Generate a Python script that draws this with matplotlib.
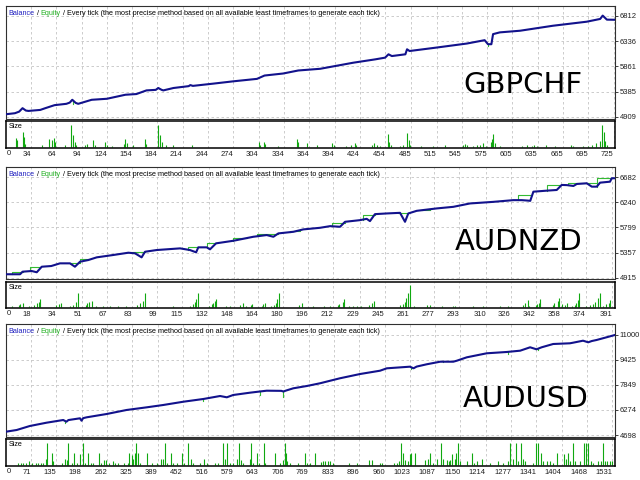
import matplotlib
matplotlib.use('Agg')
import matplotlib.pyplot as plt
import numpy as np

########################################################### DATA ###############################################################################

# GBPCHF
gbpchf_trade = [4, 15, 20, 24, 28, 31, 45, 51, 62, 76, 80, 83, 87, 90, 106, 124, 146, 159, 171, 182, 185, 189, 191,
                203, 221, 223, 226, 250, 274, 302, 311, 333, 351, 377, 416, 442, 454, 458, 462, 478, 480, 483, 515,
                551, 572, 576, 580, 582, 590, 614, 653, 693, 709, 712, 717, 727]
gbpchf_balance = [4960, 4980, 5010, 5075, 5030, 5023, 5042, 5075, 5132, 5157, 5180, 5233, 5175, 5157, 5233, 5252, 5328,
                  5341, 5410, 5420, 5455, 5420, 5410, 5455, 5490, 5510, 5495, 5537, 5581, 5627, 5690, 5728, 5785, 5817,
                  5931, 5994, 6027, 6090, 6057, 6090, 6185, 6152, 6217, 6293, 6356, 6280, 6280, 6470, 6503, 6534, 6628,
                  6704, 6756, 6819, 6743, 6740]
gbpchf_eq_trade = [84, 576]
gbpchf_eq_value = [5160, 6240]
gbpchf_size_trade = [16, 18, 24, 26, 27, 47, 55, 59, 61, 63, 74, 82, 84, 86, 88, 98, 101, 108, 110, 122, 124, 130,
                     144, 146, 148, 155, 169, 171, 185, 187, 189, 194, 203, 225, 304, 306, 310, 312, 327, 349, 351, 361,
                     373, 379, 391, 393, 408, 414, 418, 420, 438, 441, 444, 448, 457, 459, 461, 472, 475, 480, 482, 484,
                     497, 511, 525, 546, 549, 551, 558, 563, 566, 570, 574, 579, 581, 582, 584, 590, 616, 622, 628, 631,
                     634, 645, 655, 674, 677, 689, 695, 699, 704, 709, 711, 713, 715, 717]
gbpchf_size = [0.29, 0.22, 0.47, 0.32, 0.12, 0.09, 0.27, 0.22, 0.29, 0.17, 0.07, 0.69, 0.37, 0.17, 0.07, 0.07, 0.12, 0.22,
               0.09, 0.17, 0.07, 0.04, 0.12, 0.27, 0.15, 0.07, 0.27, 0.12, 0.69, 0.37, 0.17, 0.09, 0.09, 0.07, 0.17, 0.09,
               0.17, 0.12, 0.05, 0.27, 0.17, 0.15, 0.07, 0.02, 0.15, 0.07, 0.05, 0.07, 0.15, 0.07, 0.09, 0.15, 0.09, 0.05,
               0.42, 0.17, 0.07, 0.05, 0.09, 0.45, 0.22, 0.07, 0.03, 0.05, 0.09, 0.07, 0.12, 0.07, 0.05, 0.09, 0.07, 0.15,
               0.05, 0.17, 0.27, 0.42, 0.15, 0.05, 0.05, 0.07, 0.05, 0.07, 0.05, 0.07, 0.05, 0.09, 0.05, 0.05, 0.05, 0.07,
               0.15, 0.19, 0.69, 0.47, 0.19, 0.09]
gbpchf_xticks = [0, 34, 64, 94, 124, 154, 184, 214, 244, 274, 304, 334, 364, 394, 424, 454, 485, 515, 545, 575, 605,
                 635, 665, 695, 725]
gbpchf_yticks = [4909, 5385, 5861, 6336, 6812]

# AUDNZD
audnzd_trade = [2, 11, 12.6, 18.4, 21.7, 24.9, 31, 36.6, 43, 46.2, 49.5, 54.8, 60.2, 70.8, 80.5, 84.8, 89, 91.2, 98.7,
                113.7, 120, 124, 125.4, 130.8, 132.9, 136.8, 147.9, 154.3, 160.7, 169.3, 173.6, 176.8, 186.4, 192.8,
                203.5, 210, 216.4, 219.6, 229.2, 233.5, 235.6, 238.8, 246.3, 254.9, 258.1, 260.2, 265.6, 278.4, 289.1,
                299.8, 314.8, 327.6, 333, 336.6, 338.5, 340.5, 349.1, 355.5, 358.7, 362, 366.2, 368.4, 374.8, 378,
                381.2, 383.3, 389.7, 390.8, 393]
audnzd_balance = [4980, 4980, 5025, 5037, 5015, 5112, 5124, 5171, 5171, 5112, 5200, 5229, 5276, 5317, 5357, 5346, 5276,
                  5374, 5404, 5433, 5404, 5364, 5451, 5451, 5416, 5521, 5566, 5601, 5636, 5666, 5636, 5695, 5723, 5765,
                  5793, 5822, 5811, 5898, 5927, 5950, 5910, 6032, 6044, 6055, 5898, 6044, 6090, 6132, 6160, 6219, 6247,
                  6277, 6277, 6270, 6265, 6425, 6443, 6455, 6543, 6540, 6525, 6560, 6572, 6513, 6513, 6583, 6600, 6660,
                  6660]
# equity plateaus: start trade, end trade, level
audnzd_eq_start = [5.6, 17.4, 43, 49.5, 82.6, 119, 130.8, 147.9, 162.9, 184.3, 211, 231.3, 253.8, 268.8, 330.9, 349.1,
                   362.9, 381.2]
audnzd_eq_end = [12.6, 23.8, 49.5, 54.8, 91.2, 125.4, 136.8, 156.5, 176.8, 190.7, 219.6, 238.8, 260.2, 274.2, 338.4,
                 357.6, 381.2, 390.8]
audnzd_eq_level = [5025, 5102, 5172, 5247, 5375, 5451, 5533, 5610, 5685, 5743, 5883, 6018, 6058, 6105, 6368, 6543,
                   6583, 6660]
audnzd_size_trade = [6, 10, 11, 13, 17, 20, 22, 23, 24, 34, 36, 37, 43, 45, 47, 48, 53, 54, 55, 57, 60, 64, 69, 74, 79,
                     86, 88, 90, 91, 109, 120, 122, 123, 124, 125, 132, 134, 135, 136, 137, 143, 146, 152, 154, 156, 159,
                     160, 166, 167, 168, 172, 174, 175, 176, 177, 190, 192, 199, 206, 210, 215, 216, 218, 219, 222, 225,
                     227, 230, 235, 237, 238, 255, 257, 258, 259, 260, 261, 264, 272, 274, 282, 289, 290, 302, 308, 319,
                     324, 334, 335, 337, 338, 342, 343, 344, 345, 353, 354, 356, 357, 359, 361, 362, 365, 367, 368, 369,
                     370, 374, 377, 379, 380, 382, 383, 385, 387, 389, 390]
audnzd_size = [0.05, 0.08, 0.11, 0.13, 0.05, 0.08, 0.13, 0.18, 0.25, 0.08, 0.11, 0.15, 0.05, 0.08, 0.18, 0.43, 0.08,
               0.13, 0.18, 0.21, 0.05, 0.05, 0.05, 0.05, 0.05, 0.08, 0.13, 0.21, 0.43, 0.05, 0.05, 0.11, 0.18, 0.25,
               0.45, 0.05, 0.11, 0.13, 0.21, 0.25, 0.05, 0.05, 0.08, 0.13, 0.05, 0.08, 0.11, 0.05, 0.11, 0.13, 0.05,
               0.08, 0.13, 0.25, 0.43, 0.08, 0.13, 0.05, 0.05, 0.05, 0.08, 0.11, 0.18, 0.25, 0.05, 0.05, 0.05, 0.05,
               0.08, 0.13, 0.21, 0.08, 0.11, 0.18, 0.28, 0.43, 0.68, 0.05, 0.08, 0.08, 0.05, 0.05, 0.05, 0.05, 0.05,
               0.05, 0.05, 0.08, 0.13, 0.23, 0.05, 0.08, 0.11, 0.15, 0.25, 0.08, 0.13, 0.21, 0.28, 0.11, 0.08, 0.13,
               0.05, 0.08, 0.13, 0.23, 0.43, 0.05, 0.08, 0.11, 0.18, 0.28, 0.43, 0.05, 0.11, 0.13, 0.23]
audnzd_xticks = [0, 18, 34, 51, 67, 83, 99, 115, 132, 148, 164, 180, 196, 212, 229, 245, 261, 277, 293, 310, 326, 342,
                 358, 374, 391]
audnzd_yticks = [4915, 5357, 5799, 6240, 6682]

# AUDUSD
audusd_trade = [8, 35, 68, 110, 152, 160, 165, 194, 198, 202, 211, 261, 311, 362, 403, 454, 504, 546, 563, 579, 621,
                663, 700, 705, 712, 730, 764, 797, 847, 898, 948, 965, 1023, 1032, 1040, 1065, 1099, 1132, 1141, 1166,
                1216, 1266, 1300, 1325, 1341, 1354, 1383, 1425, 1433, 1458, 1471, 1480, 1492, 1517, 1538]
audusd_balance = [4906, 5013, 5265, 5473, 5643, 5536, 5640, 5750, 5599, 5760, 5813, 6021, 6274, 6443, 6588, 6796, 6967,
                  7155, 7074, 7219, 7364, 7490, 7480, 7440, 7500, 7641, 7786, 7956, 8271, 8542, 8750, 8901, 9003, 8901,
                  9010, 9153, 9317, 9317, 9381, 9594, 9847, 9929, 10011, 10225, 10099, 10225, 10433, 10477, 10515,
                  10641, 10540, 10620, 10685, 10855, 11000]
audusd_eq_trade = [156, 504, 647, 705, 1027, 1106, 1270, 1346]
audusd_eq_value = [5435, 6859, 7218, 7073, 8856, 9380, 9782, 10053]
audusd_size_trade = [39, 45, 52, 58, 67, 73, 84, 89, 95, 102, 109, 112, 123, 127, 148, 156, 161, 165, 173, 179, 187,
                     194, 201, 207, 215, 221, 228, 243, 248, 254, 259, 268, 278, 282, 290, 305, 315, 318, 324, 328, 332,
                     336, 341, 345, 362, 374, 387, 397, 403, 408, 412, 424, 429, 437, 450, 456, 466, 472, 477, 496, 506,
                     512, 533, 542, 553, 558, 564, 571, 579, 589, 593, 598, 604, 620, 625, 628, 638, 645, 656, 659, 684,
                     696, 703, 709, 712, 715, 722, 743, 759, 764, 772, 785, 799, 804, 810, 816, 822, 831, 871, 889, 921,
                     929, 948, 952, 983, 990, 996, 1001, 1005, 1011, 1017, 1022, 1027, 1036, 1061, 1069, 1073, 1082, 1090,
                     1100, 1105, 1115, 1120, 1124, 1130, 1136, 1139, 1144, 1149, 1166, 1178, 1184, 1191, 1203, 1223, 1245,
                     1258, 1270, 1274, 1281, 1290, 1295, 1301, 1306, 1312, 1333, 1341, 1346, 1352, 1358, 1367, 1375, 1383,
                     1393, 1410, 1415, 1419, 1425, 1432, 1438, 1450, 1461, 1465, 1471, 1477, 1484, 1496, 1502, 1507, 1513,
                     1519, 1526, 1532]
audusd_size = [0.1, 0.1, 0.1, 0.1, 0.2, 0.1, 0.1, 0.1, 0.1, 0.1, 0.3, 1.0, 0.53, 0.2, 0.1, 0.3, 0.25, 1.0, 0.1, 0.53,
               0.1, 0.5, 1.0, 0.1, 0.53, 0.1, 0.1, 0.53, 0.1, 0.25, 0.25, 0.1, 0.2, 0.1, 0.1, 0.1, 0.1, 0.53, 0.47, 0.3,
               0.53, 1.0, 0.53, 0.1, 0.53, 0.1, 0.1, 0.3, 0.3, 1.0, 0.1, 0.53, 0.1, 0.1, 0.53, 0.1, 1.0, 0.3, 0.1, 0.1,
               0.3, 0.1, 0.1, 0.1, 1.0, 0.3, 1.0, 0.1, 0.1, 0.3, 1.0, 0.25, 0.1, 0.3, 1.0, 0.1, 0.53, 0.1, 1.0, 0.1,
               0.53, 0.1, 0.25, 1.0, 0.53, 0.2, 0.1, 0.1, 0.53, 0.1, 0.1, 0.53, 0.14, 0.2, 0.2, 0.2, 0.2, 0.1, 0.1,
               0.1, 0.25, 0.25, 0.1, 0.1, 0.1, 0.1, 0.2, 1.0, 0.53, 0.25, 0.2, 0.5, 0.53, 0.53, 0.25, 0.3, 0.53, 0.1,
               0.3, 1.0, 0.3, 0.25, 0.2, 0.25, 0.5, 0.3, 0.53, 1.0, 0.2, 0.2, 0.53, 0.1, 0.2, 0.3, 0.1, 0.2, 0.1, 0.2,
               1.0, 0.3, 1.0, 0.2, 1.0, 0.3, 0.2, 0.1, 1.0, 1.0, 0.53, 0.2, 0.2, 0.2, 0.1, 0.53, 0.5, 0.3, 0.53, 0.2,
               1.0, 0.2, 0.2, 1.0, 1.0, 1.0, 0.2, 0.1, 0.2, 0.2, 1.0, 0.2, 0.2, 0.2, 0.2]
audusd_xticks = [0, 71, 135, 198, 262, 325, 389, 452, 516, 579, 643, 706, 769, 833, 896, 960, 1023, 1087, 1150, 1214,
                 1277, 1341, 1404, 1468, 1531]
audusd_yticks = [4698, 6274, 7849, 9425, 11000]

HEADER = ' / Every tick (the most precise method based on all available least timeframes to generate each tick)'

########################################################### STYLE ###############################################################################

BAL = '#12128c'
EQ = '#33bb33'
SIZE_C = '#10a810'
GRID_C = '#c4c4c4'
SMALL = 'Liberation Sans'
W, H = 640, 480


def rect(x0, y0, x1, y1):
    return [x0 / W, 1 - y1 / H, (x1 - x0) / W, (y1 - y0) / H]


def header(ax):
    t = ax.text(0.004, 0.935, 'Balance', color='#2020c0', transform=ax.transAxes, fontsize=5.2,
                va='center', ha='left', family=SMALL)
    for txt, col in [(' / ', 'black'), ('Equity', '#22b022'), (HEADER, 'black')]:
        t = ax.annotate(txt, xy=(1, 0), xycoords=t, va='bottom', ha='left', fontsize=5.2,
                        color=col, family=SMALL)


def draw_panel(fig, main_box, size_box, xlim, ylim, trade, balance, eq, sizes, size_top, xticks, yticks,
               name, name_pos):
    ax = fig.add_axes(rect(*main_box))
    sx = fig.add_axes(rect(*size_box))

    # equity first so the balance hides it where they overlap
    if eq[0] == 'spikes':
        for t, v in zip(eq[1], eq[2]):
            vb = np.interp(t, trade, balance)
            ax.plot([t, t], [vb, v], color=EQ, lw=0.8, zorder=2)
    else:
        for t0, t1, lev in zip(eq[1], eq[2], eq[3]):
            vb = np.interp(t0, trade, balance)
            ax.plot([t0, t0, t1], [vb, lev, lev], color=EQ, lw=0.8, zorder=2)
    ax.plot(trade, balance, color=BAL, lw=1.5, zorder=3, solid_joinstyle='round')

    ax.set_xlim(*xlim)
    ax.set_ylim(*ylim)
    ax.set_xticks(xticks[1:])
    ax.set_yticks(yticks)
    ax.yaxis.tick_right()
    ax.tick_params(axis='x', length=0, labelbottom=False)
    ax.tick_params(axis='y', length=2, width=0.6, pad=1.5, labelsize=5.5, colors='#202020')
    for lab in ax.get_yticklabels():
        lab.set_family(SMALL)
    ax.grid(True, color=GRID_C, linestyle=(0, (3, 3)), linewidth=0.6)
    for sp in ax.spines.values():
        sp.set_color('#303030')
        sp.set_linewidth(0.8)
    header(ax)
    ax.text(name_pos[0], name_pos[1], name, transform=ax.transAxes, fontsize=21, ha='center',
            va='center', color='black', family='DejaVu Sans')

    sx.vlines(sizes[0], 0, sizes[1], color=SIZE_C, lw=0.8)
    sx.set_xlim(*xlim)
    sx.set_ylim(-0.02 * size_top, size_top)
    sx.set_yticks([])
    sx.set_xticks(xticks[1:])
    sx.set_xticklabels([str(v) for v in xticks[1:]], ha='right', family=SMALL)
    sx.tick_params(axis='x', length=0, pad=2.5, labelsize=5.5, colors='#202020')
    sx.grid(True, axis='x', color=GRID_C, linestyle=(0, (3, 3)), linewidth=0.6)
    for sp in sx.spines.values():
        sp.set_color('black')
        sp.set_linewidth(1.1)
    sx.text(0.004, 0.78, 'Size', transform=sx.transAxes, fontsize=5.2, ha='left', va='center', family=SMALL)
    sx.text(0.002, -0.09, '0', transform=sx.transAxes, fontsize=5.5, ha='left', va='top', family=SMALL,
            color='#202020')


fig = plt.figure(figsize=(6.4, 4.8), dpi=100)
fig.set_facecolor('white')

draw_panel(fig, (6, 6, 615, 119), (6, 121, 615, 148), (4.4, 726.6), (4871, 7000),
           gbpchf_trade, gbpchf_balance, ('spikes', gbpchf_eq_trade, gbpchf_eq_value),
           (gbpchf_size_trade, gbpchf_size), 0.81, gbpchf_xticks, gbpchf_yticks, 'GBPCHF', (0.849, 0.30))
draw_panel(fig, (6, 167, 615, 279), (6, 282, 615, 308), (1.95, 392.9), (4897, 6857),
           audnzd_trade, audnzd_balance, ('plateaus', audnzd_eq_start, audnzd_eq_end, audnzd_eq_level),
           (audnzd_size_trade, audnzd_size), 0.78, audnzd_xticks, audnzd_yticks, 'AUDNZD', (0.842, 0.326))
draw_panel(fig, (6, 324, 615, 437), (6, 439, 615, 466), (8.2, 1538.3), (4572, 11693),
           audusd_trade, audusd_balance, ('spikes', audusd_eq_trade, audusd_eq_value),
           (audusd_size_trade, audusd_size), 1.16, audusd_xticks, audusd_yticks, 'AUDUSD', (0.854, 0.332))

plt.savefig('out.png', dpi=100, facecolor=fig.get_facecolor())
